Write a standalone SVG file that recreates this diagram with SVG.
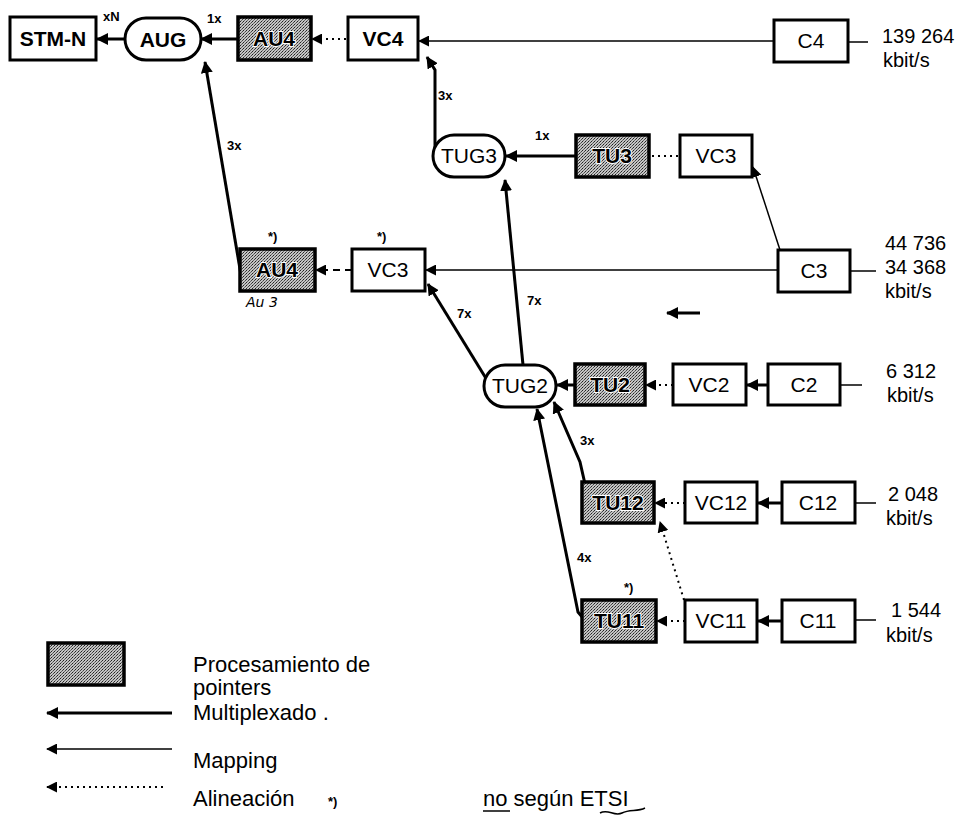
<svg xmlns="http://www.w3.org/2000/svg" width="960" height="831" viewBox="0 0 960 831">
<defs>
<pattern id="stip" width="3" height="3" patternUnits="userSpaceOnUse">
<rect width="3" height="3" fill="#c4c4c4"/>
<rect x="0" y="0" width="1" height="1" fill="#222"/>
<rect x="2" y="1" width="1" height="1" fill="#444"/>
<rect x="1" y="2" width="1" height="1" fill="#666"/>
</pattern>
<marker id="ah" viewBox="0 0 12 12" refX="11" refY="6" markerWidth="12" markerHeight="12" markerUnits="userSpaceOnUse" orient="auto">
<path d="M0,0 L12,6 L0,12 Z" fill="#000"/>
</marker>
<marker id="ahs" viewBox="0 0 12 12" refX="11" refY="6" markerWidth="11" markerHeight="11" markerUnits="userSpaceOnUse" orient="auto">
<path d="M0,0 L12,6 L0,12 Z" fill="#000"/>
</marker>
</defs>
<style>
.box{fill:#fff;stroke:#000;stroke-width:3}
.ptr{fill:url(#stip);stroke:#000;stroke-width:3.5}
.lbl{font-family:"Liberation Sans",Arial,sans-serif;font-size:21px;text-anchor:middle;fill:#000}
.plbl{font-family:"Liberation Sans",Arial,sans-serif;font-size:21px;font-weight:bold;text-anchor:middle;fill:#000;stroke:#fff;stroke-width:2;paint-order:stroke}
.b{font-weight:bold}
.num{font-family:"Liberation Sans",Arial,sans-serif;font-size:13px;font-weight:bold;fill:#000}
.rate{font-family:"Liberation Sans",Arial,sans-serif;font-size:20px;fill:#000}
.leg{font-family:"Liberation Sans",Arial,sans-serif;font-size:22px;fill:#000}
.mux{fill:none;stroke:#000;stroke-width:3;marker-end:url(#ah)}
.map{fill:none;stroke:#000;stroke-width:1.5;marker-end:url(#ahs)}
.aln{fill:none;stroke:#000;stroke-width:2;stroke-dasharray:2 4;marker-end:url(#ahs)}
.alnn{fill:none;stroke:#000;stroke-width:2;stroke-dasharray:2 4}
.dsh{fill:none;stroke:#000;stroke-width:2;stroke-dasharray:7 5;marker-end:url(#ahs)}
.in{fill:none;stroke:#000;stroke-width:1.5}
</style>

<g id="connectors">
<path class="mux" d="M125,39 L97,39"/>
<path class="mux" d="M238,39 L201,39"/>
<path class="aln" d="M346,39 L312,39"/>
<path class="map" d="M774,41 L419,41"/>
<path class="in" d="M849,42 L868,42"/>
<path class="mux" d="M241,275 L205,62"/>
<path class="mux" d="M435,148 L435,70 L427,57"/>
<path class="mux" d="M576,156 L506,156"/>
<path class="alnn" d="M678,156 L652,156"/>
<path class="map" d="M780,250 L753,167"/>
<path class="dsh" d="M352,270 L316,270"/>
<path class="map" d="M778,270 L426,270"/>
<path class="in" d="M851,271 L876,271"/>
<path class="mux" d="M487,380 L428,284"/>
<path class="mux" d="M523,365 L505,180"/>
<path class="mux" d="M575,385 L557,385"/>
<path class="aln" d="M673,385 L646,385"/>
<path class="mux" d="M768,385 L747,385"/>
<path class="in" d="M841,385 L862,385"/>
<path class="mux" d="M585,484 L580,462 L554,402"/>
<path class="mux" d="M583,618 L578,612 L537,409"/>
<path class="aln" d="M685,503 L655,503"/>
<path class="mux" d="M782,503 L758,503"/>
<path class="in" d="M856,503 L876,503"/>
<path class="aln" d="M684,600 L660,522"/>
<path class="aln" d="M685,621 L657,621"/>
<path class="mux" d="M782,621 L758,621"/>
<path class="in" d="M856,620 L876,620"/>
<path class="mux" d="M700,313 L667,313"/>
</g>

<g id="STM-N"><rect class="box" x="10" y="17" width="86" height="43"/><text class="lbl b" x="53" y="46">STM-N</text></g>
<g id="AUG"><rect class="box" x="125" y="18" width="76" height="42" rx="21"/><text class="lbl b" x="163" y="47">AUG</text></g>
<g id="AU4"><rect class="ptr" x="238" y="17" width="73" height="43"/><text class="plbl" x="274" y="46">AU4</text></g>
<g id="VC4"><rect class="box" x="348" y="17" width="70" height="43"/><text class="lbl b" x="383" y="46">VC4</text></g>
<g id="C4"><rect class="box" x="774" y="20" width="74" height="42"/><text class="lbl" x="811" y="48">C4</text></g>
<g id="TUG3"><rect class="box" x="433" y="135" width="72" height="42" rx="21"/><text class="lbl" x="469" y="163">TUG3</text></g>
<g id="TU3"><rect class="ptr" x="576" y="135" width="73" height="42"/><text class="plbl" x="612" y="163">TU3</text></g>
<g id="VC3-upper"><rect class="box" x="680" y="135" width="72" height="42"/><text class="lbl" x="716" y="163">VC3</text></g>
<g id="AU4-lower"><rect class="ptr" x="240" y="249" width="75" height="42"/><text class="plbl" x="277" y="277">AU4</text><text x="246" y="307" font-family="'DejaVu Sans',sans-serif" font-style="italic" font-size="14">Au 3</text><text class="num" x="268" y="241">*)</text></g>
<g id="VC3-lower"><rect class="box" x="352" y="249" width="73" height="42"/><text class="lbl" x="388" y="277">VC3</text><text class="num" x="377" y="241">*)</text></g>
<g id="C3"><rect class="box" x="778" y="250" width="72" height="42"/><text class="lbl" x="814" y="278">C3</text></g>
<g id="TUG2"><rect class="box" x="484" y="365" width="72" height="42" rx="21"/><text class="lbl" x="520" y="393">TUG2</text></g>
<g id="TU2"><rect class="ptr" x="575" y="364" width="70" height="41"/><text class="plbl" x="610" y="392">TU2</text></g>
<g id="VC2"><rect class="box" x="673" y="364" width="73" height="41"/><text class="lbl" x="709" y="392">VC2</text></g>
<g id="C2"><rect class="box" x="768" y="364" width="72" height="41"/><text class="lbl" x="804" y="392">C2</text></g>
<g id="TU12"><rect class="ptr" x="582" y="482" width="72" height="41"/><text class="plbl" x="618" y="510">TU12</text></g>
<g id="VC12"><rect class="box" x="685" y="482" width="72" height="41"/><text class="lbl" x="721" y="510">VC12</text></g>
<g id="C12"><rect class="box" x="782" y="482" width="73" height="41"/><text class="lbl" x="818" y="510">C12</text></g>
<g id="TU11"><rect class="ptr" x="582" y="600" width="74" height="42"/><text class="plbl" x="619" y="628">TU11</text><text class="num" x="624" y="592">*)</text></g>
<g id="VC11"><rect class="box" x="685" y="600" width="72" height="42"/><text class="lbl" x="721" y="628">VC11</text></g>
<g id="C11"><rect class="box" x="782" y="600" width="73" height="42"/><text class="lbl" x="818" y="628">C11</text></g>

<g id="labels">
<text class="num" x="103" y="21">xN</text>
<text class="num" x="207" y="23">1x</text>
<text class="num" x="227" y="150">3x</text>
<text class="num" x="438" y="100">3x</text>
<text class="num" x="535" y="140">1x</text>
<text class="num" x="457" y="318">7x</text>
<text class="num" x="527" y="305">7x</text>
<text class="num" x="580" y="445">3x</text>
<text class="num" x="577" y="562">4x</text>
</g>

<g id="rates">
<text class="rate" x="882" y="43">139 264</text><text class="rate" x="883" y="67">kbit/s</text>
<text class="rate" x="885" y="250">44 736</text><text class="rate" x="885" y="274">34 368</text><text class="rate" x="885" y="298">kbit/s</text>
<text class="rate" x="886" y="378">6 312</text><text class="rate" x="887" y="402">kbit/s</text>
<text class="rate" x="888" y="501">2 048</text><text class="rate" x="886" y="525">kbit/s</text>
<text class="rate" x="891" y="617">1 544</text><text class="rate" x="886" y="642">kbit/s</text>
</g>

<g id="legend">
<rect class="ptr" x="48" y="643" width="76" height="42"/>
<text class="leg" x="193" y="672">Procesamiento de</text>
<text class="leg" x="193" y="695">pointers</text>
<text class="leg" x="193" y="720">Multiplexado .</text>
<path class="mux" d="M172,713 L47,713"/>
<path class="map" d="M172,749 L47,749"/>
<text class="leg" x="193" y="768">Mapping</text>
<path class="aln" d="M163,787 L47,787"/>
<text class="leg" x="193" y="806">Alineación</text>
<text class="num" x="328" y="806">*)</text>
<text class="leg" x="483" y="806" font-size="24">no según ETSI</text>
<path d="M483,811 L510,811" stroke="#000" stroke-width="1.5"/>
<path d="M600,813 C608,808 614,817 622,813 C630,809 637,812 645,808" fill="none" stroke="#000" stroke-width="1.5"/>
</g>
</svg>
